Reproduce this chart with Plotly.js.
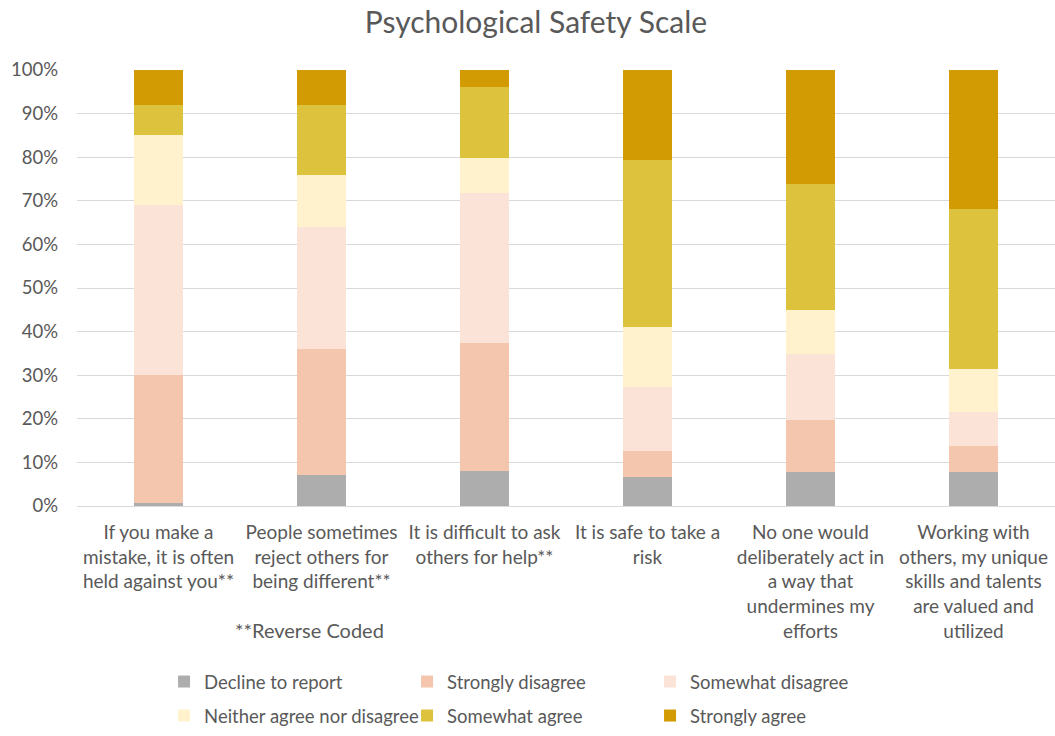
<!DOCTYPE html>
<html>
<head>
<meta charset="utf-8">
<script src="https://cdn.plot.ly/plotly-3.0.1.min.js"></script>
<style>html,body{margin:0;padding:0;background:#fff;}#chart{width:1055px;height:736px;}</style>
</head>
<body>
<div id="chart"></div>
<script>
const categories = [
  "If you make a<br>mistake, it is often<br>held against you**",
  "People sometimes<br>reject others for<br>being different**",
  "It is difficult to ask<br>others for help**",
  "It is safe to take a<br>risk",
  "No one would<br>deliberately act in<br>a way that<br>undermines my<br>efforts",
  "Working with<br>others, my unique<br>skills and talents<br>are valued and<br>utilized"
];
const seriesNames = ["Decline to report","Strongly disagree","Somewhat disagree","Neither agree nor disagree","Somewhat agree","Strongly agree"];
const declineToReport = [0.8, 7.0, 8.0, 6.7, 7.8, 7.8];
const stronglyDisagree = [29.2, 29.0, 29.4, 6.0, 12.0, 6.0];
const somewhatDisagree = [39.0, 28.0, 34.4, 14.6, 15.1, 7.8];
const neitherAgree = [16.0, 12.0, 8.0, 13.8, 10.0, 9.9];
const somewhatAgree = [7.0, 16.0, 16.2, 38.3, 29.0, 36.6];
const stronglyAgree = [8.0, 8.0, 4.0, 20.6, 26.1, 31.9];
const yTickVals = [0,10,20,30,40,50,60,70,80,90,100];
const yTickText = ["0%","10%","20%","30%","40%","50%","60%","70%","80%","90%","100%"];
const colors = ["#ADADAD","#F4C6AD","#FBE3D7","#FFF2CC","#DDC23D","#D29B03"];

const allSeries = [declineToReport, stronglyDisagree, somewhatDisagree, neitherAgree, somewhatAgree, stronglyAgree];
const xIdx = categories.map((c,i)=>i);
const font = "Lato, 'Open Sans', sans-serif";
const txt = "#595959";

const traces = allSeries.map((vals, i) => ({
  type: "bar",
  name: seriesNames[i],
  x: xIdx,
  y: vals,
  marker: {color: colors[i], line: {width: 0}},
  legend: i < 3 ? "legend" : "legend2",
  hoverinfo: "skip"
}));

const legendCommon = {
  orientation: "h",
  xref: "paper", yref: "paper",
  xanchor: "left", yanchor: "bottom",
  entrywidth: 198,
  font: {family: font, size: 18.5, color: txt},
  bgcolor: "rgba(0,0,0,0)",
  traceorder: "normal"
};

const layout = {
  width: 1055, height: 736,
  margin: {l: 77, r: 0, t: 70, b: 230},
  paper_bgcolor: "#fff", plot_bgcolor: "#fff",
  barmode: "stack",
  bargap: 0.694,
  showlegend: true,
  hovermode: false,
  title: {
    text: "Psychological Safety Scale",
    font: {family: font, size: 30, color: txt},
    x: 0.508, xanchor: "center",
    yref: "container", y: 0.97, yanchor: "middle"
  },
  xaxis: {
    range: [-0.5, 5.5],
    tickmode: "array", tickvals: xIdx, ticktext: categories,
    tickfont: {family: font, size: 19, color: txt},
    showgrid: false, zeroline: false, showline: false,
    ticks: "", automargin: false, tickangle: 0, fixedrange: true,
    ticklabelstandoff: 13
  },
  yaxis: {
    range: [0, 100],
    tickmode: "array", tickvals: yTickVals, ticktext: yTickText,
    tickfont: {family: font, size: 18.5, color: txt},
    showgrid: true, gridcolor: "#D9D9D9", gridwidth: 1,
    zeroline: true, zerolinecolor: "#D9D9D9", zerolinewidth: 1,
    showline: false, ticks: "", automargin: false, fixedrange: true,
    ticklabelstandoff: 18
  },
  legend: Object.assign({}, legendCommon, {x: 0.089, y: (506 - 701) / 436}),
  legend2: Object.assign({}, legendCommon, {x: 0.089, y: (506 - 735) / 436}),
  annotations: [{
    text: "**Reverse Coded",
    xref: "paper", yref: "paper",
    x: (309 - 77) / 978, y: (506 - 630) / 436,
    xanchor: "center", yanchor: "middle",
    showarrow: false,
    font: {family: font, size: 20, color: txt}
  }]
};

Plotly.newPlot("chart", traces, layout, {displayModeBar: false, staticPlot: true});
</script>
</body>
</html>
